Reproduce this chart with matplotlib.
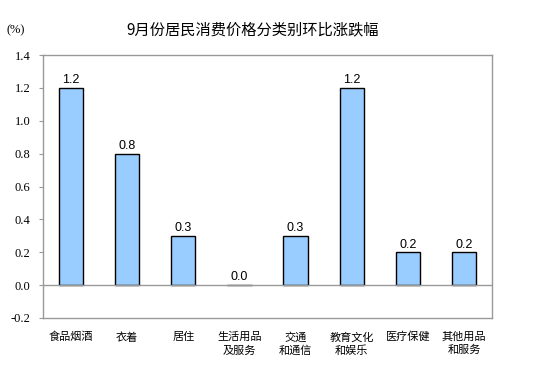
import matplotlib
matplotlib.use("Agg")
import matplotlib.pyplot as plt

categories = ["食品烟酒", "衣着", "居住", "生活用品\n及服务", "交通\n和通信",
              "教育文化\n和娱乐", "医疗保健", "其他用品\n和服务"]
values = [1.2, 0.8, 0.3, 0.0, 0.3, 1.2, 0.2, 0.2]
yticks = [-0.2, 0.0, 0.2, 0.4, 0.6, 0.8, 1.0, 1.2, 1.4]

cjk = ["Noto Sans CJK SC", "DejaVu Sans"]

fig = plt.figure(figsize=(5.54, 3.84), dpi=100)
ax = fig.add_axes([43 / 554, 1 - 318 / 384, 449 / 554, 263 / 384])

x = list(range(len(categories)))
ax.bar(x, values, width=0.43, color="#99CCFF", edgecolor="black", linewidth=1.0, zorder=2)
# zero line drawn over the bars, so bar bottoms (and the 0.0 bar) show grey
ax.axhline(0, color="#999999", linewidth=1.0, zorder=3)

for xi, v in zip(x, values):
    ax.text(xi, v + 0.01, f"{v:.1f}", ha="center", va="bottom",
            fontsize=9, family="Liberation Sans")

ax.set_xlim(-0.5, len(categories) - 0.5)
ax.set_ylim(-0.2, 1.4)
ax.set_yticks(yticks)
ax.set_yticklabels([f"{t:.1f}" for t in yticks], family="Liberation Serif", fontsize=9)
ax.tick_params(axis="y", direction="out", length=3, width=0.8, color="#999999", pad=6)
ax.set_xticks(x)
ax.set_xticklabels(categories, family=cjk, fontsize=8, linespacing=1.35, va="top")
ax.tick_params(axis="x", length=0, pad=10)

for s in ax.spines.values():
    s.set_color("#999999")
    s.set_linewidth(1.0)

fig.text(253 / 554, 1 - 30 / 384, "9月份居民消费价格分类别环比涨跌幅", ha="center", va="center",
         fontsize=11, family=cjk)
fig.text(7 / 554, 1 - 30 / 384, "(%)", ha="left", va="center", fontsize=9,
         family="Liberation Serif")

fig.savefig("out.png", dpi=100)
